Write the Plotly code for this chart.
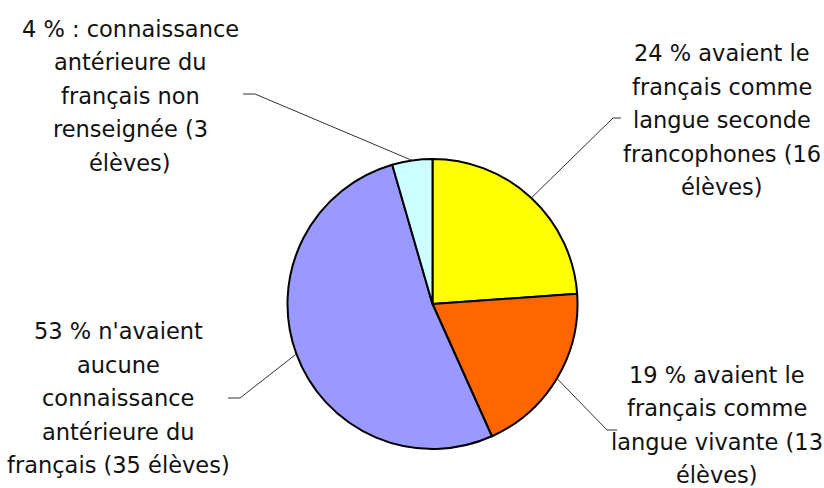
import math
import plotly.graph_objects as go

# ---- data ----
categories = [
    "langue seconde",
    "langue vivante",
    "aucune connaissance",
    "non renseignée",
]
eleves = [16, 13, 35, 3]
colors = ["#FFFF00", "#FF6600", "#9999FF", "#CCFFFF"]
label_lines = [
    ["24 % avaient le", "français comme", "langue seconde", "francophones (16", "élèves)"],
    ["19 % avaient le", "français comme", "langue vivante (13", "élèves)"],
    ["53 % n'avaient", "aucune", "connaissance", "antérieure du", "français (35 élèves)"],
    ["4 % : connaissance", "antérieure du", "français non", "renseignée (3", "élèves)"],
]

# ---- layout geometry (pixels) ----
W, H = 824, 488
CX, CY, R = 432.5, 304, 145
label_centers = [(722, 120), (717, 425), (118, 398), (130, 96)]
elbows = [((613, 118), (621, 118)), ((607, 430), (617, 430)),
          ((240, 398), (228, 398)), ((255, 94), (243, 94))]
LINE_H = 33.5
FONT = dict(family="DejaVu Sans", size=22.5, color="#111111")


def px(x):
    return x / W


def py(y):
    return 1 - y / H


fig = go.Figure(go.Pie(
    labels=categories,
    values=eleves,
    sort=False,
    direction="clockwise",
    rotation=0,
    marker=dict(colors=colors, line=dict(color="#000000", width=2)),
    textinfo="none",
    hoverinfo="label+value+percent",
    showlegend=False,
    domain=dict(x=[px(CX - R), px(CX + R)], y=[py(CY + R), py(CY - R)]),
))

total = sum(eleves)
cum = 0
shapes = []
annotations = []
for i, v in enumerate(eleves):
    mid = (cum + v / 2) / total * 2 * math.pi
    cum += v
    sx = CX + R * math.sin(mid)
    sy = CY - R * math.cos(mid)
    (ex, ey), (hx, hy) = elbows[i]
    path = f"M {px(sx)},{py(sy)} L {px(ex)},{py(ey)} L {px(hx)},{py(hy)}"
    shapes.append(dict(type="path", xref="paper", yref="paper", path=path,
                       line=dict(color="#333333", width=1)))
    lx, ly = label_centers[i]
    lines = label_lines[i]
    n = len(lines)
    for k, t in enumerate(lines):
        yy = ly + (k - (n - 1) / 2) * LINE_H
        annotations.append(dict(text=t, x=px(lx), y=py(yy), xref="paper", yref="paper",
                                xanchor="center", yanchor="middle", showarrow=False,
                                font=FONT))

fig.update_layout(
    width=W, height=H,
    margin=dict(l=0, r=0, t=0, b=0),
    paper_bgcolor="white", plot_bgcolor="white",
    shapes=shapes,
    annotations=annotations,
)

fig.write_html(
    "out.html",
    config={"displayModeBar": False},
    post_script="document.body.style.margin='0';document.body.style.overflow='hidden';",
)
